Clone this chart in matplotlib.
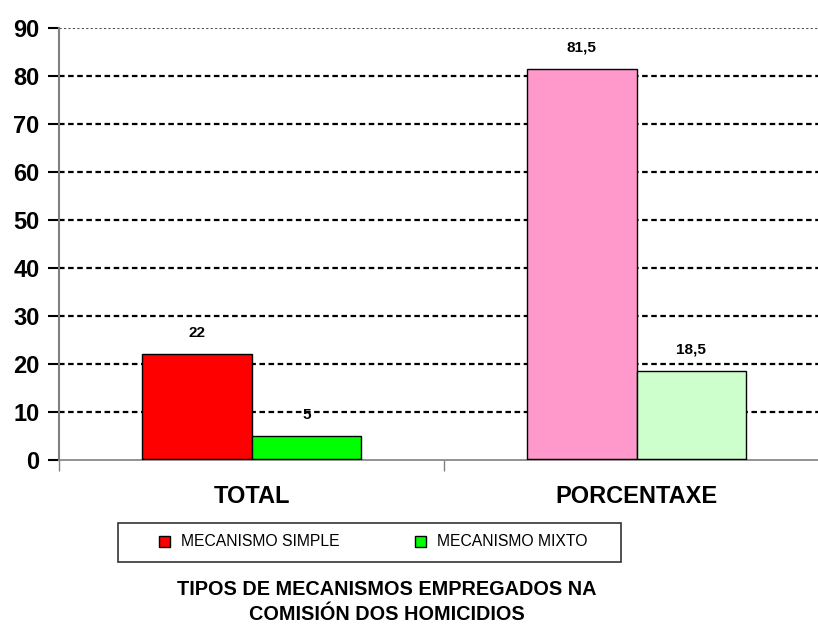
import matplotlib.pyplot as plt
from matplotlib.patches import Patch, Rectangle

plt.rcParams['font.family'] = ['Liberation Sans', 'DejaVu Sans']

# Data
categories = ['TOTAL', 'PORCENTAXE']
series_names = ['MECANISMO SIMPLE', 'MECANISMO MIXTO']
simple_vals = [22, 81.5]
mixto_vals = [5, 18.5]
simple_labels = ['22', '81,5']
mixto_labels = ['5', '18,5']
simple_colors = ['#FF0000', '#FF99CC']
mixto_colors = ['#00FF00', '#CCFFCC']

fig = plt.figure(figsize=(8.18, 6.26), dpi=100)
ax = fig.add_axes([59 / 818, 1 - 460 / 626, 770 / 818, 432 / 626])

w = 0.285
x = list(range(len(categories)))
xs1 = [i - w / 2 for i in x]
xs2 = [i + w / 2 for i in x]

# dotted grid lines
for yv in range(10, 100, 10):
    if yv < 90:
        ax.axhline(yv, color='black', lw=1.6, ls=(0, (2.5, 1.6)), zorder=1)
    else:
        ax.axhline(yv, color='#555555', lw=0.8, ls=(0, (2, 2)), zorder=1)

ax.bar(xs1, simple_vals, w, color=simple_colors, edgecolor='black', lw=1, zorder=3)
ax.bar(xs2, mixto_vals, w, color=mixto_colors, edgecolor='black', lw=1, zorder=3)
# thick base under the bars
for i in x:
    ax.plot([i - w, i + w], [0.1, 0.1], color='black', lw=2.5, zorder=4,
            solid_capstyle='butt')

for xi, v, t in zip(xs1, simple_vals, simple_labels):
    ax.text(xi, v + 3.0, t, ha='center', va='bottom', fontsize=11, fontweight='bold')
for xi, v, t in zip(xs2, mixto_vals, mixto_labels):
    ax.text(xi, v + 3.0, t, ha='center', va='bottom', fontsize=11, fontweight='bold')

ax.set_xlim(-0.5, 1.5)
ax.set_ylim(0, 90)
ax.set_yticks(range(0, 100, 10))
ax.set_yticklabels([str(v) for v in range(0, 100, 10)], fontsize=17, fontweight='bold')
ax.tick_params(axis='y', direction='out', length=8, width=1.5, color='black', pad=6)
ax.set_xticks(x)
ax.set_xticklabels(categories, fontsize=17, fontweight='bold')
ax.tick_params(axis='x', which='major', length=0, pad=18)
ax.set_xticks([-0.5, 0.5], minor=True)
ax.tick_params(axis='x', which='minor', direction='out', length=8, width=1, color='#808080')

for s in ['top', 'right']:
    ax.spines[s].set_visible(False)
ax.spines['left'].set_color('#808080')
ax.spines['left'].set_linewidth(1.5)
ax.spines['bottom'].set_color('#808080')
ax.spines['bottom'].set_linewidth(1.2)

# legend box
fig.patches.append(Rectangle((118 / 818, 1 - 562 / 626), 503 / 818, 39 / 626,
                             transform=fig.transFigure, facecolor='white',
                             edgecolor='#333333', lw=1.2))
handles = [Patch(facecolor='#FF0000', edgecolor='black'),
           Patch(facecolor='#00FF00', edgecolor='black')]
fig.legend(handles, series_names, loc='center', ncol=2,
           bbox_to_anchor=(373 / 818, 1 - 542 / 626), fontsize=11.3,
           frameon=False, handlelength=0.7, handleheight=0.7,
           columnspacing=4.8, handletextpad=0.7)

fig.text(387 / 818, 1 - 602 / 626, 'TIPOS DE MECANISMOS EMPREGADOS NA\nCOMISIÓN DOS HOMICIDIOS',
         ha='center', va='center', fontsize=14.3, fontweight='bold', linespacing=1.4)

fig.savefig('out.png', dpi=100)
